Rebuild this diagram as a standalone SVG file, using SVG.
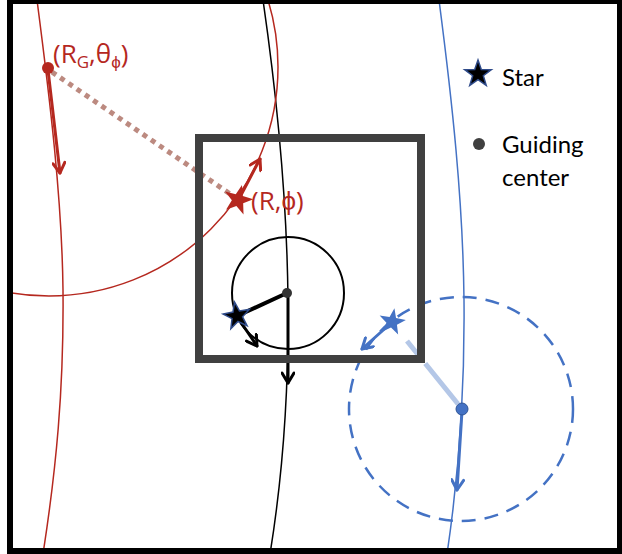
<svg xmlns="http://www.w3.org/2000/svg" width="622" height="554" viewBox="0 0 622 554">
<style>
.orbit{fill:none;stroke-width:1.5}
.red{stroke:#b5281f}
.blk{stroke:#000}
.blu{stroke:#4472c4}
.arr{fill:none;stroke-width:3;stroke-linecap:round}
.lbl{font-family:"Open Sans","Liberation Sans",sans-serif;font-size:26px;fill:#b5281f}
.leg{font-family:Lato,"Liberation Sans",sans-serif;font-size:24px;fill:#000}
</style>
<defs>
<clipPath id="frame"><rect x="10" y="1" width="610" height="550"/></clipPath>
<path id="star" d="M0,-14 L3.29,-4.53 L13.31,-4.33 L5.33,1.73 L8.23,11.33 L0,5.6 L-8.23,11.33 L-5.33,1.73 L-13.31,-4.33 L-3.29,-4.53 Z"/>
<marker id="mr" viewBox="0 0 14 14" refX="12" refY="7" markerWidth="14" markerHeight="14" markerUnits="userSpaceOnUse" orient="auto"><path d="M2,1 L12,7 L2,13" fill="none" stroke="#b5281f" stroke-width="3" stroke-linecap="round" stroke-linejoin="round"/></marker>
<marker id="mk" viewBox="0 0 14 14" refX="12" refY="7" markerWidth="14" markerHeight="14" markerUnits="userSpaceOnUse" orient="auto"><path d="M2,1 L12,7 L2,13" fill="none" stroke="#000" stroke-width="3" stroke-linecap="round" stroke-linejoin="round"/></marker>
<marker id="mb" viewBox="0 0 14 14" refX="12" refY="7" markerWidth="14" markerHeight="14" markerUnits="userSpaceOnUse" orient="auto"><path d="M2,1 L12,7 L2,13" fill="none" stroke="#4472c4" stroke-width="3" stroke-linecap="round" stroke-linejoin="round"/></marker>
</defs>
<rect width="622" height="554" fill="#fff"/>
<g id="connectors" clip-path="url(#frame)">
<path class="orbit red" d="M37,0 C50,100 62,200 63,290 C64,390 56,470 43,554"/>
<path class="orbit blk" d="M263,0 C276,90 287,200 288,300 C289,400 282,480 270,554"/>
<path class="orbit blu" d="M439,0 C452,100 463,200 464,300 C465,400 458,480 447,554"/>
<circle class="orbit red" cx="49" cy="67" r="229"/>
<circle cx="288" cy="293" r="56" fill="none" stroke="#000" stroke-width="2"/>
<circle cx="461" cy="409" r="112" fill="none" stroke="#4472c4" stroke-width="2.5" stroke-dasharray="14 9"/>
<line x1="52" y1="72" x2="236" y2="198" stroke="#bc8a80" stroke-width="5" stroke-dasharray="5 5"/>
<line x1="407" y1="341" x2="458" y2="404" stroke="#b4c7e7" stroke-width="5" stroke-dasharray="17 12 60"/>
<line class="arr red" x1="48" y1="70" x2="60" y2="173" marker-end="url(#mr)"/>
<line class="arr red" x1="240" y1="197" x2="260" y2="159" marker-end="url(#mr)"/>
<line x1="287" y1="293" x2="237" y2="316" stroke="#000" stroke-width="4" stroke-linecap="round"/>
<line class="arr blk" x1="288" y1="295" x2="288" y2="383" marker-end="url(#mk)"/>
<line class="arr blk" x1="238" y1="318" x2="257" y2="346" marker-end="url(#mk)"/>
<line class="arr blu" x1="462" y1="411" x2="457" y2="490" marker-end="url(#mb)"/>
<line class="arr blu" x1="390" y1="324" x2="362" y2="349" marker-end="url(#mb)"/>
</g>
<g id="box"><rect x="199" y="138" width="222" height="221" fill="none" stroke="#404040" stroke-width="8"/></g>
<g id="frame-border"><rect x="10" y="1" width="610" height="550" fill="none" stroke="#000" stroke-width="6"/></g>
<g id="red-gc"><circle cx="48" cy="68" r="6" fill="#b5281f"/>
<text class="lbl" x="53" y="63">(R<tspan font-size="17" dy="5">G</tspan><tspan dy="-5">,θ</tspan><tspan font-size="17" dy="5">ϕ</tspan><tspan dy="-5">)</tspan></text></g>
<g id="red-star"><use href="#star" transform="translate(238,200) rotate(15) scale(1.1)" fill="#b5281f"/>
<text class="lbl" x="251" y="210">(R,ϕ)</text></g>
<g id="black-gc"><circle cx="287" cy="293" r="5" fill="#333"/></g>
<g id="black-star"><use href="#star" transform="translate(237,316) rotate(-10)" fill="#000" stroke="#2f4b8a" stroke-width="1.5"/></g>
<g id="blue-gc"><circle cx="462" cy="409" r="6" fill="#4472c4" stroke="#2f5597" stroke-width="1"/></g>
<g id="blue-star"><use href="#star" transform="translate(392,322) rotate(10)" fill="#4472c4"/></g>
<g id="legend">
<use href="#star" transform="translate(478,74)" fill="#000" stroke="#2f4b8a" stroke-width="1.5"/>
<text class="leg" x="502" y="86">Star</text>
<circle cx="479" cy="144" r="6" fill="#404040"/>
<text class="leg" x="502" y="153">Guiding</text>
<text class="leg" x="502" y="186">center</text>
</g>
</svg>
